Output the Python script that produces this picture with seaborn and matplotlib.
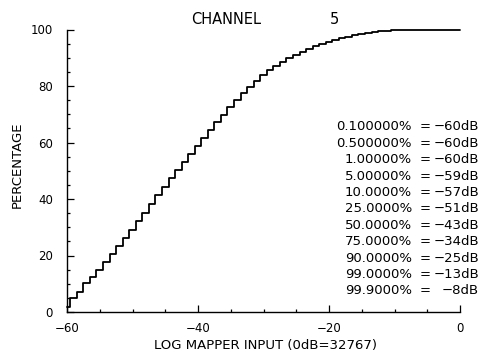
import numpy as np
import pandas as pd
import matplotlib
matplotlib.use("Agg")
import matplotlib.pyplot as plt
from matplotlib.ticker import MultipleLocator
import seaborn as sns

# Cumulative distribution of the log mapper input, one value per dB bin
db_bins = list(range(-60, 1))
cum_percent = [
    1.8, 5.1, 7.2, 10.1, 12.3, 14.8, 17.6, 20.4, 23.2, 26.1,
    29.2, 32.2, 35.2, 38.3, 41.3, 44.3, 47.3, 50.3, 53.2, 56.0,
    58.8, 61.6, 64.4, 67.1, 69.8, 72.4, 75.1, 77.5, 79.8, 81.9,
    83.8, 85.6, 87.2, 88.6, 89.9, 91.1, 92.2, 93.2, 94.1, 94.9,
    95.6, 96.3, 96.9, 97.4, 97.9, 98.3, 98.7, 99.05, 99.3, 99.5,
    99.7, 99.85, 99.92, 99.96, 99.98, 100.0, 100.0, 100.0, 100.0, 100.0,
    100.0,
]

# Percentile table shown beside the curve
pct_levels = [0.1, 0.5, 1.0, 5.0, 10.0, 25.0, 50.0, 75.0, 90.0, 99.0, 99.9]
pct_db = [-60, -60, -60, -59, -57, -51, -43, -34, -25, -13, -8]

x_ticks = [-60, -40, -20, 0]
y_ticks = [0, 20, 40, 60, 80, 100]

channel = 5

sns.set_theme(style="ticks")
plt.rcParams["font.family"] = ["DejaVu Sans"]

W, H = 484, 355
fig = plt.figure(figsize=(W / 100, H / 100), dpi=100)
fig.patch.set_facecolor("white")

def fx(px):
    return px / W

def fy(py):
    return 1 - py / H

ax = fig.add_axes([fx(67), fy(312), fx(460) - fx(67), fy(29.5) - fy(312)])
ax.set_facecolor("white")

df = pd.DataFrame({"db": db_bins, "pct": cum_percent})
sns.lineplot(data=df, x="db", y="pct", ax=ax, color="black", linewidth=1.3,
             drawstyle="steps-mid", estimator=None, clip_on=False)

ax.set_xlim(-60, 0)
ax.set_ylim(0, 100)
ax.set_xticks(x_ticks)
ax.set_yticks(y_ticks)
ax.set_xticklabels([f"{v:d}".replace("-", "\u2212") for v in x_ticks])
ax.set_yticklabels([str(v) for v in y_ticks])
ax.xaxis.set_minor_locator(MultipleLocator(5))
ax.yaxis.set_minor_locator(MultipleLocator(5))
ax.tick_params(which="both", direction="in", color="black", width=0.9,
               labelsize=8.5, labelcolor="black")
ax.tick_params(which="major", length=5)
ax.tick_params(which="minor", length=2.5)
ax.tick_params(axis="y", pad=10)
ax.tick_params(axis="x", pad=7.5)
ax.set_xlabel("")
ax.set_ylabel("")
sns.despine(ax=ax)
for side in ("left", "bottom"):
    ax.spines[side].set_color("black")
    ax.spines[side].set_linewidth(1.0)

# Title
fig.text(fx(226), fy(20), "CHANNEL", ha="center", va="center", fontsize=10.5, color="black")
fig.text(fx(334), fy(20), str(channel), ha="center", va="center", fontsize=10.5, color="black")

# Axis labels
fig.text(fx(17), fy(165), "PERCENTAGE", rotation=90, ha="center", va="center",
         fontsize=9.5, color="black")
fig.text(fx(266), fy(345), "LOG MAPPER INPUT (0dB=32767)", ha="center", va="center",
         fontsize=9.5, color="black")

# Percentile table
for k, (p, d) in enumerate(zip(pct_levels, pct_db)):
    yy = fy(127 + 16.4 * k)
    fig.text(fx(412), yy, f"{p:#.6g}%", ha="right", va="center", fontsize=9.5, color="black")
    fig.text(fx(425), yy, "=", ha="center", va="center", fontsize=9.5, color="black")
    fig.text(fx(479), yy, f"{d:d}dB".replace("-", "\u2212"), ha="right", va="center",
             fontsize=9.5, color="black")

fig.savefig("out.png", dpi=100, facecolor="white")
